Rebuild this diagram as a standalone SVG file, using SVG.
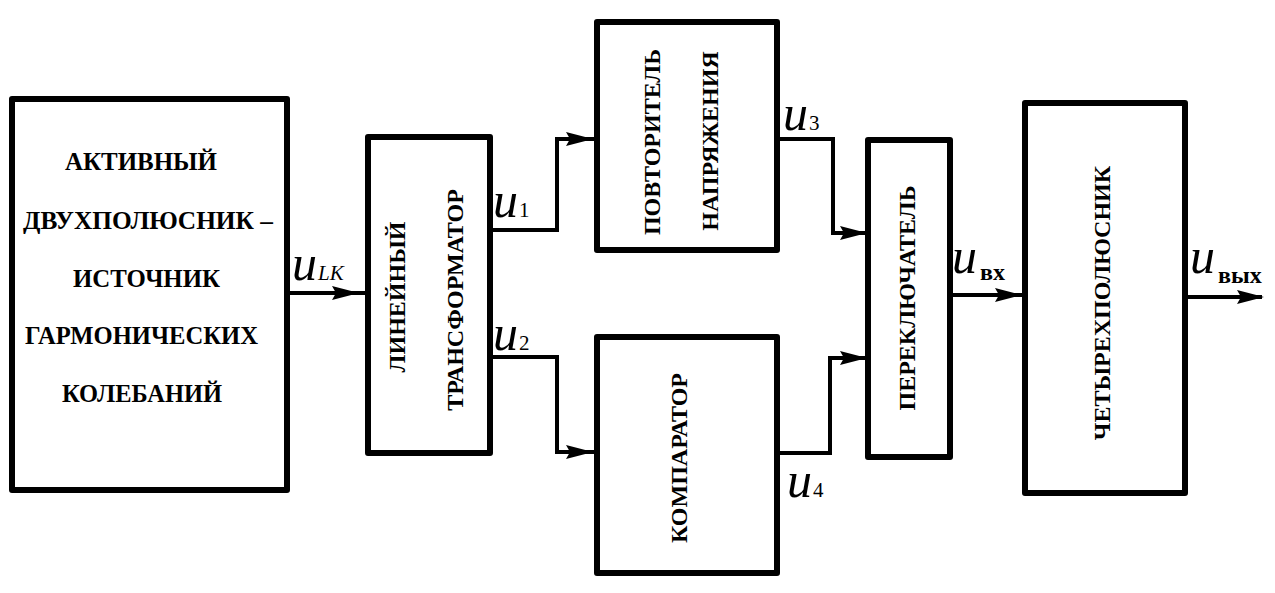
<svg xmlns="http://www.w3.org/2000/svg" width="1275" height="593" viewBox="0 0 1275 593">
<style>
.box{fill:#fff;stroke:#000;stroke-width:6;stroke-linejoin:round}
.t{font-family:"Liberation Serif",serif;font-weight:bold;font-size:24px;fill:#000}
.tl{font-family:"Liberation Serif",serif;font-weight:bold;font-size:26px;fill:#000}
.u{font-family:"Liberation Serif",serif;font-style:italic;font-size:50px;fill:#000}
.sub{font-family:"Liberation Serif",serif;font-style:normal;font-size:21px;fill:#000}
.subi{font-family:"Liberation Serif",serif;font-style:italic;font-size:21px;fill:#000}
.subb{font-family:"Liberation Serif",serif;font-style:normal;font-weight:bold;font-size:24px;fill:#000}
.w{fill:none;stroke:#000;stroke-width:4;stroke-linejoin:miter}
</style>
<defs>
<path id="ah" d="M0,0 L-27,-7 L-23,0 L-27,7 Z" fill="#000"/>
</defs>
<rect width="1275" height="593" fill="#fff"/>
<g id="connectors">
<path class="w" d="M287,293 H368"/>
<path class="w" d="M490,230 H557 V139 H597"/>
<path class="w" d="M490,357 H557 V452 H597"/>
<path class="w" d="M777,139 H833 V233 H868"/>
<path class="w" d="M777,453 H830 V358 H868"/>
<path class="w" d="M950,295 H1025"/>
<path class="w" d="M1185,297 H1262"/>
<use href="#ah" x="359" y="293"/>
<use href="#ah" x="593" y="139"/>
<use href="#ah" x="593" y="452"/>
<use href="#ah" x="867" y="233"/>
<use href="#ah" x="867" y="358"/>
<use href="#ah" x="1022" y="295"/>
<use href="#ah" x="1264" y="297"/>
</g>
<g id="source">
<rect class="box" x="12" y="99" width="275" height="391"/>
<text class="tl" x="65" y="170" textLength="152" lengthAdjust="spacingAndGlyphs">АКТИВНЫЙ</text>
<text class="tl" x="23" y="229" textLength="250" lengthAdjust="spacingAndGlyphs">ДВУХПОЛЮСНИК –</text>
<text class="tl" x="73" y="287" textLength="147" lengthAdjust="spacingAndGlyphs">ИСТОЧНИК</text>
<text class="tl" x="25" y="344" textLength="233" lengthAdjust="spacingAndGlyphs">ГАРМОНИЧЕСКИХ</text>
<text class="tl" x="62" y="402" textLength="160" lengthAdjust="spacingAndGlyphs">КОЛЕБАНИЙ</text>
</g>
<g id="transformer">
<rect class="box" x="368" y="137" width="122" height="316"/>
<text class="t" transform="translate(405,297) rotate(-90)" text-anchor="middle">ЛИНЕЙНЫЙ</text>
<text class="t" transform="translate(463,300) rotate(-90)" text-anchor="middle">ТРАНСФОРМАТОР</text>
</g>
<g id="follower">
<rect class="box" x="597" y="22" width="180" height="228"/>
<text class="t" transform="translate(660,142) rotate(-90)" text-anchor="middle">ПОВТОРИТЕЛЬ</text>
<text class="t" transform="translate(718,141) rotate(-90)" text-anchor="middle">НАПРЯЖЕНИЯ</text>
</g>
<g id="comparator">
<rect class="box" x="597" y="337" width="180" height="236"/>
<text class="t" transform="translate(687,458) rotate(-90)" text-anchor="middle">КОМПАРАТОР</text>
</g>
<g id="switch">
<rect class="box" x="868" y="140" width="82" height="317"/>
<text class="t" transform="translate(915,298) rotate(-90)" text-anchor="middle">ПЕРЕКЛЮЧАТЕЛЬ</text>
</g>
<g id="fourpole">
<rect class="box" x="1025" y="103" width="160" height="390"/>
<text class="t" transform="translate(1110,303) rotate(-90)" text-anchor="middle">ЧЕТЫРЕХПОЛЮСНИК</text>
</g>
<g id="labels">
<text class="u" x="292" y="280">u<tspan class="subi" dx="1">LK</tspan></text>
<text class="u" x="493" y="217">u<tspan class="sub" dx="1">1</tspan></text>
<text class="u" x="493" y="350">u<tspan class="sub" dx="1">2</tspan></text>
<text class="u" x="783" y="130">u<tspan class="sub" dx="1">3</tspan></text>
<text class="u" x="787" y="497">u<tspan class="sub" dx="1">4</tspan></text>
<text class="u" x="952" y="273">u<tspan class="subb" dx="3" dy="7">вх</tspan></text>
<text class="u" x="1190" y="273">u<tspan class="subb" dx="3" dy="10">вых</tspan></text>
</g>
</svg>
